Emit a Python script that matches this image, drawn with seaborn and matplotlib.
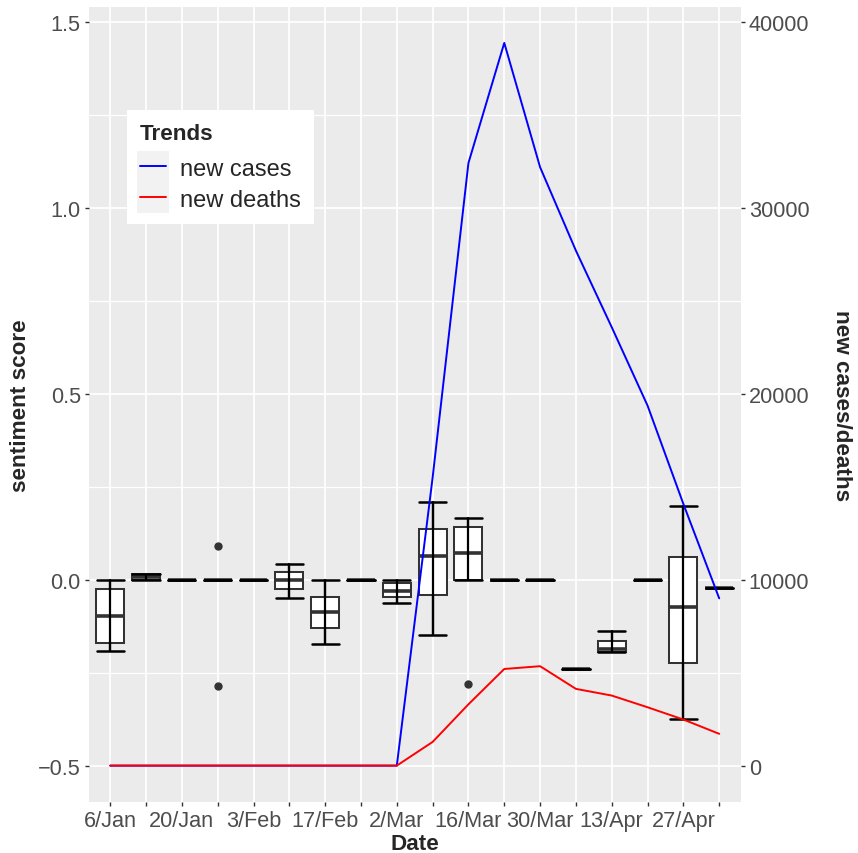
import matplotlib
matplotlib.use("Agg")
import matplotlib.pyplot as plt
from matplotlib.patches import Rectangle
from matplotlib.legend_handler import HandlerLine2D
import numpy as np
import pandas as pd
import seaborn as sns

# Weekly periods (week starting dates)
weeks = ["6/Jan", "13/Jan", "20/Jan", "27/Jan", "3/Feb", "10/Feb", "17/Feb",
         "24/Feb", "2/Mar", "9/Mar", "16/Mar", "23/Mar", "30/Mar", "6/Apr",
         "13/Apr", "20/Apr", "27/Apr", "4/May"]

# Sentiment score summary per week
whislo = [-0.191, 0.0, 0.0, 0.0, 0.0, -0.048, -0.173, 0.0, -0.063,
          -0.148, 0.0, 0.0, 0.0, -0.239, -0.193, 0.0, -0.375, -0.023]
q1 = [-0.170, 0.0, 0.0, 0.0, 0.0, -0.025, -0.130, 0.0, -0.045,
      -0.042, 0.0, 0.0, 0.0, -0.239, -0.193, 0.0, -0.223, -0.023]
med = [-0.097, 0.007, 0.0, 0.0, 0.0, 0.0, -0.087, 0.0, -0.029,
       0.065, 0.073, 0.0, 0.0, -0.239, -0.187, 0.0, -0.072, -0.023]
q3 = [-0.024, 0.015, 0.0, 0.0, 0.0, 0.021, -0.047, 0.0, -0.009,
      0.137, 0.143, 0.0, 0.0, -0.239, -0.165, 0.0, 0.061, -0.023]
whishi = [0.0, 0.015, 0.0, 0.0, 0.0, 0.042, 0.0, 0.0, 0.0,
          0.209, 0.166, 0.0, 0.0, -0.239, -0.138, 0.0, 0.199, -0.023]
outliers = [[], [], [], [0.0915, -0.287], [], [], [], [], [],
            [], [-0.281], [], [], [], [], [], [], []]

# Weekly new cases and new deaths
new_cases = [0, 0, 0, 0, 0, 0, 0, 0, 0, 15500, 32430, 38890, 32200,
             27710, 23590, 19370, 14080, 9000]
new_deaths = [0, 0, 0, 0, 0, 0, 0, 0, 0, 1275, 3300, 5200, 5350,
              4130, 3770, 3140, 2480, 1710]

# Secondary axis mapping: counts = (score + 0.5) * 20000
SCALE = 20000
OFFSET = 0.5

sns.set_style("darkgrid", {"axes.facecolor": "#EBEBEB", "grid.color": "white"})
plt.rcParams["font.family"] = ["Liberation Sans", "DejaVu Sans"]

fig = plt.figure(figsize=(8.58, 8.54), dpi=100)
ax = fig.add_axes([0.1034, 0.0601, 0.7599, 0.9305])

pos = np.arange(len(weeks))
stats = []
for i in range(len(weeks)):
    stats.append(dict(whislo=whislo[i], q1=q1[i], med=med[i], q3=q3[i],
                      whishi=whishi[i], fliers=outliers[i]))

ax.bxp(stats, positions=pos, widths=0.78, capwidths=0.76, patch_artist=True,
       manage_ticks=False,
       boxprops=dict(facecolor="white", edgecolor="#333333", linewidth=1.45),
       medianprops=dict(color="#333333", linewidth=2.6, solid_capstyle="butt"),
       whiskerprops=dict(color="black", linewidth=1.6),
       capprops=dict(color="black", linewidth=1.8, zorder=3),
       flierprops=dict(marker="o", markerfacecolor="#333333",
                       markeredgecolor="#333333", markersize=5))
# error bar stem drawn over the box
ax.vlines(pos, whislo, whishi, color="black", linewidth=1.6, zorder=3)

ylo, yhi = -0.597, 1.541
ax.set_xlim(-0.6, 17.6)
ax.set_ylim(ylo, yhi)
ax.set_yticks([-0.5, 0.0, 0.5, 1.0, 1.5])
ax.set_yticklabels(["\u22120.5", "0.0", "0.5", "1.0", "1.5"])
ax.set_yticks([-0.25, 0.25, 0.75, 1.25], minor=True)
ax.set_xticks(pos)
ax.set_xticklabels([w if i % 2 == 0 else "" for i, w in enumerate(weeks)])
ax.grid(which="major", color="white", linewidth=1.25)
ax.grid(which="minor", axis="y", color="white", linewidth=0.9)
ax.set_axisbelow(True)
for s in ax.spines.values():
    s.set_visible(False)
ax.tick_params(axis="both", which="major", length=3.2, width=1.0,
               color="#333333", labelcolor="#4D4D4D", labelsize=15.6, pad=2.5,
               left=True, bottom=True)
ax.tick_params(axis="y", which="minor", length=0)

ax.set_xlabel("Date", fontsize=16.2, fontweight="bold", labelpad=1.5)
ax.set_ylabel("sentiment score", fontsize=16.2, fontweight="bold", labelpad=5)

# Trend lines on the count axis
ax2 = ax.twinx()
ax2.set_ylim((ylo + OFFSET) * SCALE, (yhi + OFFSET) * SCALE)
ax2.set_yticks([0, 10000, 20000, 30000, 40000])
ax2.grid(False)
ax2.patch.set_visible(False)
for s in ax2.spines.values():
    s.set_visible(False)
ax2.tick_params(axis="y", length=3.2, width=1.0, color="#333333",
                labelcolor="#4D4D4D", labelsize=15.6, pad=2.5, right=True)

df = pd.DataFrame({
    "week": np.concatenate([pos, pos]),
    "count": new_cases + new_deaths,
    "Trends": ["new cases"] * len(weeks) + ["new deaths"] * len(weeks),
})
sns.lineplot(data=df, x="week", y="count", hue="Trends",
             palette={"new cases": "blue", "new deaths": "red"},
             linewidth=1.4, ax=ax2)
ax2.set_xlabel("")
ax2.set_ylabel("new cases/deaths", fontsize=16.2, fontweight="bold",
               rotation=270, labelpad=16, va="bottom")


class KeyHandler(HandlerLine2D):
    """Line key drawn over a light grey key background."""

    def create_artists(self, legend, orig_handle, xdescent, ydescent,
                       width, height, fontsize, trans):
        arts = super().create_artists(legend, orig_handle, xdescent, ydescent,
                                      width, height, fontsize, trans)
        padx = 0.13 * fontsize
        pady = 0.3 * fontsize
        bg = Rectangle((-xdescent - padx, -ydescent - pady),
                       width + 2 * padx, height + 2 * pady,
                       facecolor="#F2F2F2", edgecolor="none", transform=trans,
                       zorder=0)
        return [bg] + arts


handles, labels = ax2.get_legend_handles_labels()
leg = ax2.legend(handles, labels, title="Trends", loc="upper left",
                 bbox_to_anchor=(0.0583, 0.8708), frameon=True,
                 fancybox=False, framealpha=1.0, edgecolor="white",
                 facecolor="white", fontsize=17,
                 title_fontproperties={"weight": "bold", "size": 16.2},
                 handlelength=1.1, handletextpad=0.6, labelspacing=0.38,
                 borderpad=0.55, borderaxespad=0.0, alignment="left",
                 handler_map={h: KeyHandler() for h in handles})
leg.get_frame().set_linewidth(0)
# extra room between the legend title and its entries
leg._legend_box.sep = 10

fig.savefig("out.png", dpi=100)
